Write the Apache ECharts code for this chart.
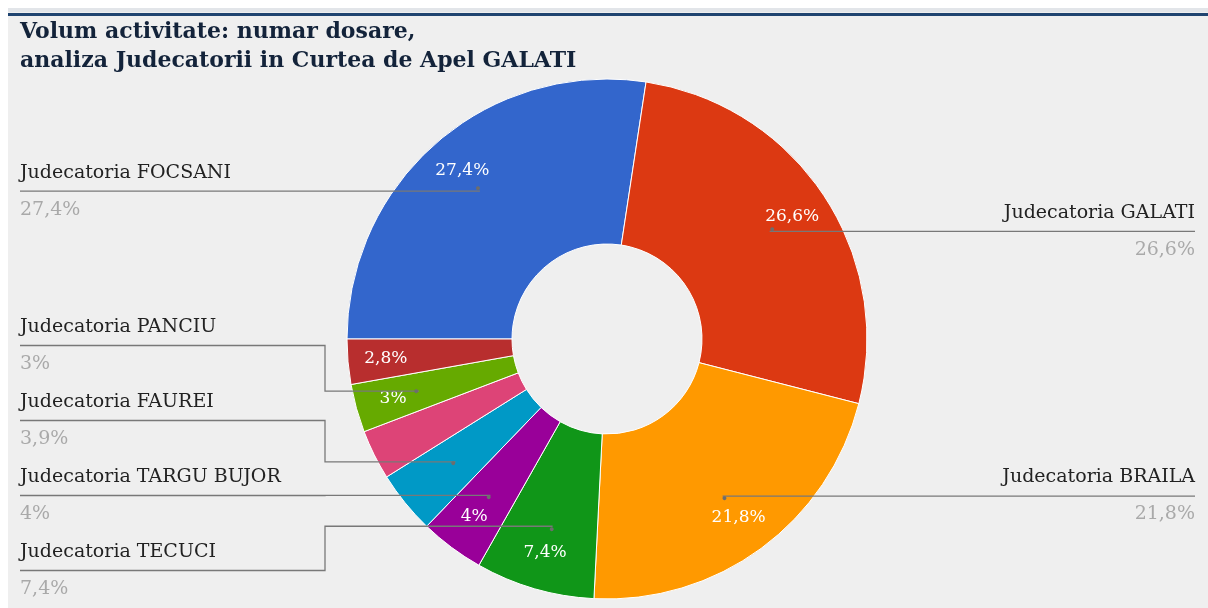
<!DOCTYPE html>
<html>
<head>
<meta charset="utf-8">
<script src="https://cdn.jsdelivr.net/npm/echarts@6/dist/echarts.min.js"></script>
<style>
html, body { margin: 0; padding: 0; background: #ffffff; }
#wrap { position: relative; width: 1208px; height: 608px; overflow: hidden; }
/* panou gri cu linia albastra sus */
#panel { position: absolute; left: 8px; top: 8px; right: 0; bottom: 0; background: #efefef;
         border-top: 4px solid #e2e5e9; }
#bar { position: absolute; left: 8px; right: 0; top: 13px; height: 3px; background: #1f4470; }
#main { position: absolute; left: 0; top: 0; width: 1208px; height: 608px; }
</style>
</head>
<body>
<div id="wrap">
    <div id="panel"></div>
    <div id="bar"></div>
    <div id="main"></div>
</div>
<script>
// date (procente)
const courts = ['Judecatoria FOCSANI', 'Judecatoria GALATI', 'Judecatoria BRAILA', 'Judecatoria TECUCI',
    'Judecatoria TARGU BUJOR', 'Judecatoria FAUREI', 'Nespecificat A', 'Judecatoria PANCIU', 'Nespecificat B'];
const shares = [27.4, 26.6, 21.8, 7.4, 4, 3.9, 3.1, 3, 2.8];
// care felii au eticheta laterala / text in felie
const sideLabel = [true, true, true, true, true, true, false, true, false];
const sliceText = [true, true, true, true, true, false, false, true, true];
const colors = ['#3366cc', '#dc3912', '#ff9900', '#109618', '#990099', '#0099c6', '#dd4477', '#66aa00', '#b82e2e'];

const CX = 607, CY = 339, R_OUT = 260, R_IN = 95;
const SERIF = '"DejaVu Serif", "Liberation Serif", serif';

const fmt = v => String(v).replace('.', ',') + '%';

const myChart = echarts.init(document.getElementById('main'));

const baseData = courts.map((name, i) => ({ name: name, value: shares[i] }));

const option = {
    backgroundColor: 'transparent',
    animation: false,
    title: {
        text: 'Volum activitate: numar dosare,\nanaliza Judecatorii in Curtea de Apel GALATI',
        left: 20,
        top: 18,
        padding: 0,
        textStyle: { fontFamily: SERIF, fontWeight: 'bold', fontSize: 22, lineHeight: 29, color: '#13233a' }
    },
    series: [
        // inelul vizibil
        {
            type: 'pie',
            z: 2,
            silent: true,
            center: [CX, CY],
            radius: [R_IN, R_OUT],
            startAngle: 180,
            label: { show: false },
            labelLine: { show: false },
            itemStyle: { borderColor: '#ffffff', borderWidth: 1 },
            data: baseData.map((d, i) => ({ ...d, itemStyle: { color: colors[i] } }))
        },
        // procentele din felii
        {
            type: 'pie',
            z: 3,
            silent: true,
            center: [CX, CY],
            radius: [178, R_OUT],
            startAngle: 180,
            itemStyle: { color: 'rgba(0,0,0,0)' },
            labelLine: { show: false },
            data: baseData.map((d, i) => ({
                ...d,
                label: {
                    show: sliceText[i],
                    position: 'inside',
                    formatter: p => fmt(p.value),
                    color: '#ffffff',
                    fontFamily: SERIF,
                    fontSize: 17
                }
            }))
        },
        // punctele de pornire ale liniilor
        {
            type: 'pie',
            z: 4,
            silent: true,
            center: [CX, CY],
            radius: [190, 200],
            startAngle: 180,
            itemStyle: { color: 'rgba(0,0,0,0)' },
            labelLine: { show: false },
            data: baseData.map((d, i) => ({
                ...d,
                label: {
                    show: sideLabel[i],
                    position: 'inside',
                    formatter: '●',
                    color: '#6d6d6d',
                    fontSize: 9
                }
            }))
        },
        // etichetele laterale cu linii
        {
            type: 'pie',
            z: 4,
            silent: true,
            center: [CX, CY],
            radius: [0, 195],
            startAngle: 180,
            avoidLabelOverlap: true,
            itemStyle: { color: 'rgba(0,0,0,0)' },
            label: {
                position: 'outside',
                alignTo: 'edge',
                edgeDistance: 20,
                minMargin: 19,
                formatter: p => '{n|' + p.name + '}\n{v|' + fmt(p.value) + '}',
                rich: {
                    n: { fontFamily: SERIF, fontSize: 19, color: '#222222', lineHeight: 37 },
                    v: { fontFamily: SERIF, fontSize: 19, color: '#a9a9a9', lineHeight: 37 }
                }
            },
            labelLine: {
                show: true,
                length: 0,
                length2: 10,
                lineStyle: { color: '#787878', width: 1.3 }
            },
            labelLayout: function (params) {
                const pts = params.labelLinePoints;
                if (!pts) return {};
                const rect = params.labelRect;
                const isLeft = rect.x + rect.width / 2 < CX;
                const dx = isLeft ? 0 : 7;
                const y = rect.y + rect.height / 2;
                const start = pts[0];
                const elbowX = isLeft ? CX - R_OUT - 22 : CX + R_OUT + 22;
                const farX = isLeft ? rect.x : rect.x + rect.width + dx;
                return {
                    dx: dx,
                    labelLinePoints: [start, [elbowX, start[1]], [elbowX, y], [farX, y]]
                };
            },
            data: baseData.map((d, i) => ({ ...d, label: { show: sideLabel[i] }, labelLine: { show: sideLabel[i] } }))
        }
    ]
};

myChart.setOption(option);
window.onresize = function () {
    myChart && myChart.resize();
};
</script>
</body>
</html>
